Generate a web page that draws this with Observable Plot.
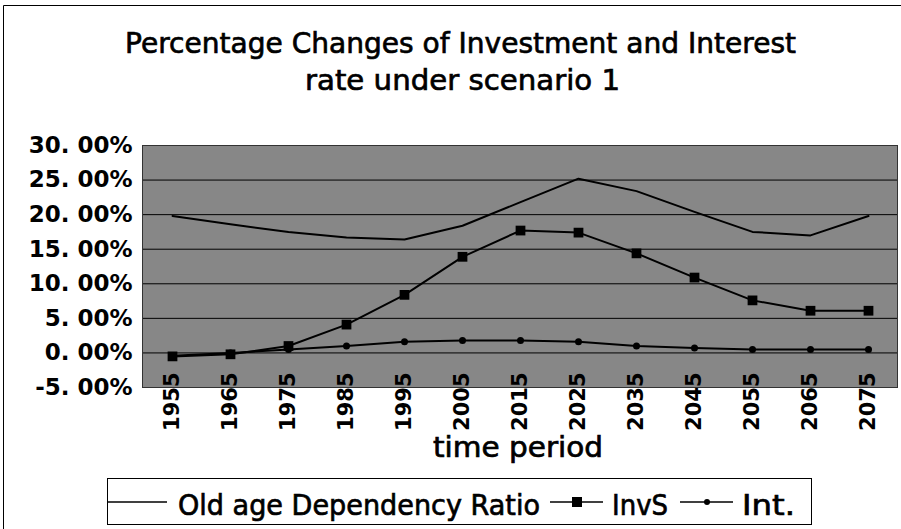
<!DOCTYPE html>
<html>
<head>
<meta charset="utf-8">
<script src="https://cdn.jsdelivr.net/npm/d3@7"></script>
<script src="https://cdn.jsdelivr.net/npm/@observablehq/plot@0.6"></script>
<style>
  html, body { margin: 0; padding: 0; background: #fff; }
  #wrap { position: relative; width: 901px; height: 529px; overflow: hidden; font-family: "DejaVu Sans", sans-serif; }
  #chart { position: absolute; left: 0; top: 0; }
  #overlay { position: absolute; left: 0; top: 0; pointer-events: none; }
</style>
</head>
<body>
<div id="wrap">
  <div id="chart"></div>
  <svg id="overlay" width="901" height="529"></svg>
</div>
<script>
// ---- data (percent values) ----
const years = [1955, 1965, 1975, 1985, 1995, 2005, 2015, 2025, 2035, 2045, 2055, 2065, 2075];
const oldAgeRatio = [19.8, 18.6, 17.5, 16.7, 16.4, 18.4, 21.8, 25.2, 23.4, 20.4, 17.5, 17.0, 19.8];
const invS = [-0.5, -0.2, 1.0, 4.1, 8.4, 13.9, 17.7, 17.4, 14.4, 10.9, 7.6, 6.1, 6.1];
const intRate = [-0.4, 0.0, 0.5, 1.0, 1.6, 1.8, 1.8, 1.6, 1.0, 0.7, 0.5, 0.5, 0.5];
const seriesNames = ["Old age Dependency Ratio", "InvS", "Int."];
const yTicks = [-0.05, 0, 0.05, 0.10, 0.15, 0.20, 0.25, 0.30];
const yTickLabels = ["-5. 00%", "0. 00%", "5. 00%", "10. 00%", "15. 00%", "20. 00%", "25. 00%", "30. 00%"];
const titleLines = ["Percentage Changes of Investment and Interest", "rate under scenario 1"];
const xAxisTitle = "time period";

const rows = (vals) => years.map((y, i) => ({year: y, v: vals[i] / 100}));
const oldRows = rows(oldAgeRatio);
const invRows = rows(invS);
const intRows = rows(intRate);

const chart = Plot.plot({
  width: 901,
  height: 529,
  marginLeft: 142,
  marginRight: 4,
  marginTop: 145,
  marginBottom: 142,
  style: {fontFamily: "DejaVu Sans", background: "transparent", color: "black", overflow: "visible"},
  x: {type: "point", domain: years, padding: 0.5, label: null, axis: null},
  y: {domain: [-0.05, 0.30], label: null},
  marks: [
    Plot.frame({fill: "#878787"}),
    Plot.gridY(yTicks, {stroke: "black", strokeOpacity: 1, strokeWidth: 1}),
    Plot.frame({stroke: "#333", strokeWidth: 1}),
    Plot.axisY(yTicks, {tickSize: 0, tickPadding: 10, tickFormat: d => yTickLabels[yTicks.indexOf(d)], fontSize: 23, fontWeight: "bold", label: null}),
    Plot.lineY(oldRows, {x: "year", y: "v", stroke: "black", strokeWidth: 2}),
    Plot.lineY(intRows, {x: "year", y: "v", stroke: "black", strokeWidth: 2}),
    Plot.dot(intRows, {x: "year", y: "v", r: 3.5, fill: "black", stroke: "none"}),
    Plot.lineY(invRows, {x: "year", y: "v", stroke: "black", strokeWidth: 2}),
    Plot.dot(invRows, {x: "year", y: "v", symbol: "square", r: 5.5, fill: "black", stroke: "none"}),
    Plot.text(years, {x: d => d, text: d => String(d), frameAnchor: "bottom", rotate: -90, textAnchor: "end", lineAnchor: "middle", dy: -15, fontSize: 21, fontWeight: "bold", fill: "black"})
  ]
});
document.getElementById("chart").appendChild(chart);

// ---- overlay: border, title, axis title, legend ----
const ov = d3.select("#overlay");
ov.append("path").attr("d", "M3.5,540 V5.5 H905").attr("fill", "none").attr("stroke", "black").attr("stroke-width", 1);

const txt = (s, x, y, len, size) => ov.append("text")
  .attr("x", x).attr("y", y).attr("text-anchor", "start")
  .attr("font-family", "DejaVu Sans").attr("font-size", size).attr("font-weight", "normal")
  .attr("stroke", "black").attr("stroke-width", 0.7).attr("fill", "black")
  .attr("textLength", len).attr("lengthAdjust", "spacingAndGlyphs").text(s);

txt(titleLines[0], 125, 53, 671, 29);
txt(titleLines[1], 305, 90, 315, 29);
txt(xAxisTitle, 433, 457, 170, 28);

// legend
ov.append("rect").attr("x", 107.5).attr("y", 478.5).attr("width", 704).attr("height", 46)
  .attr("fill", "white").attr("stroke", "black").attr("stroke-width", 1);
const ly = 502;
ov.append("line").attr("x1", 108).attr("x2", 167).attr("y1", ly).attr("y2", ly).attr("stroke", "black").attr("stroke-width", 1.5);
txt(seriesNames[0], 178, 515, 362, 29);
ov.append("line").attr("x1", 550).attr("x2", 603).attr("y1", ly).attr("y2", ly).attr("stroke", "black").attr("stroke-width", 1.5);
ov.append("rect").attr("x", 572).attr("y", ly - 5).attr("width", 10).attr("height", 10).attr("fill", "black");
txt(seriesNames[1], 612, 515, 56, 29);
ov.append("line").attr("x1", 680).attr("x2", 733).attr("y1", ly).attr("y2", ly).attr("stroke", "black").attr("stroke-width", 1.5);
ov.append("circle").attr("cx", 707).attr("cy", ly).attr("r", 3).attr("fill", "black");
txt(seriesNames[2], 742, 515, 53, 29);
</script>
</body>
</html>
